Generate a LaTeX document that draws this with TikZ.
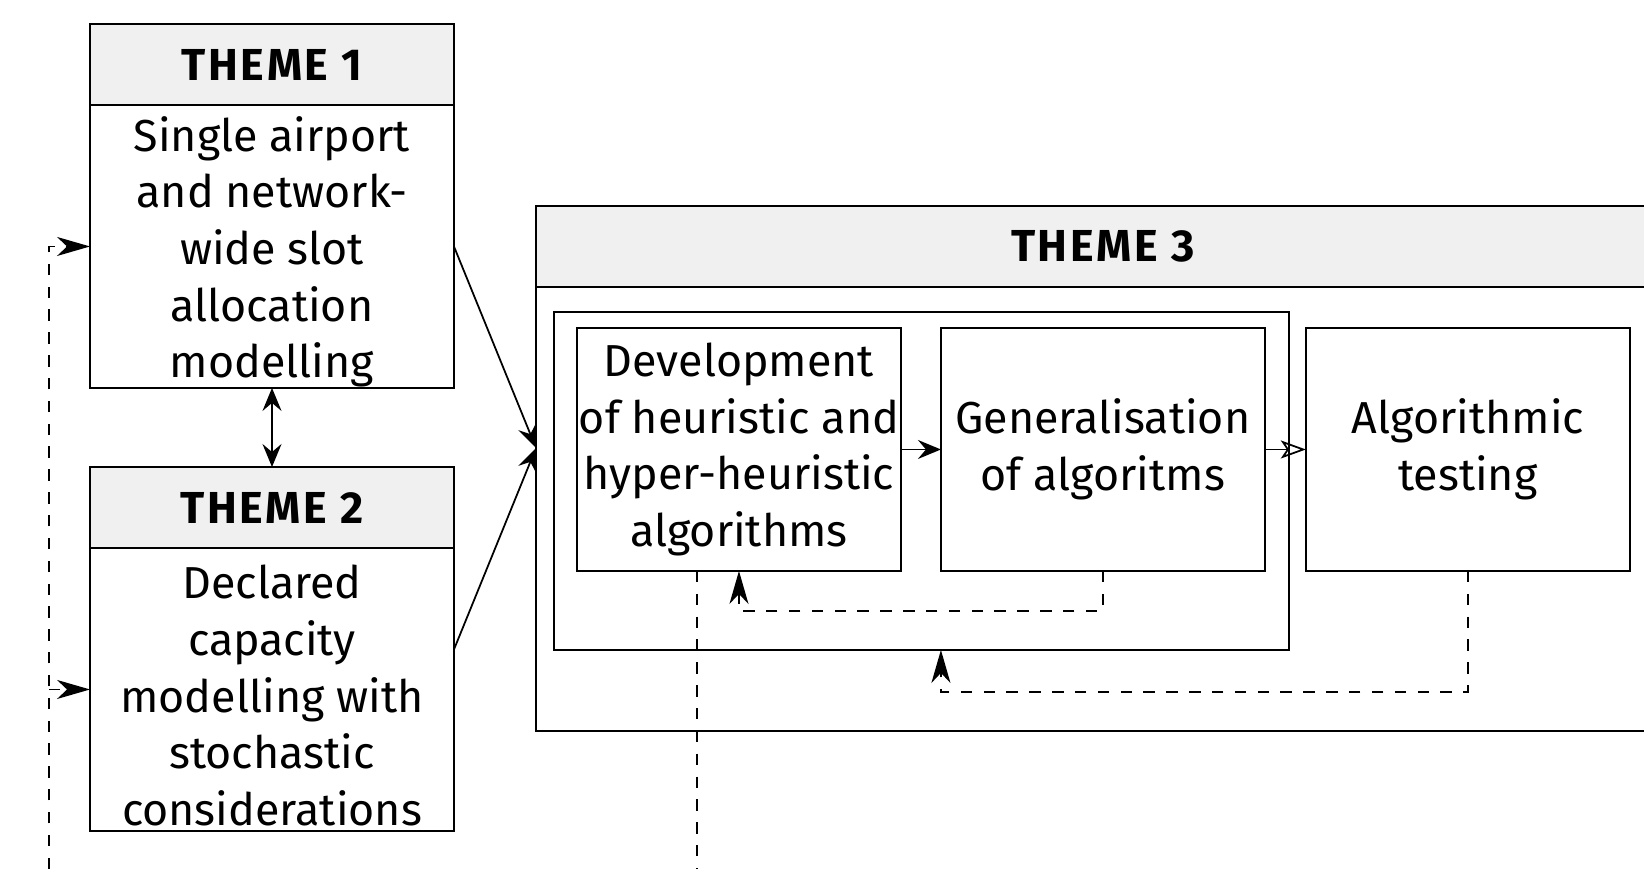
\documentclass[tikz,border=0pt]{standalone}
\usepackage{fontspec}
\setmainfont{Fira Sans}
\usetikzlibrary{positioning,arrows.meta}
\newcommand{\lowtext}{\rule{0pt}{26pt}}

\begin{document}
\begin{tikzpicture}[x=0.02cm, y=-0.02cm,
  font=\fontsize{25.5}{32.2}\selectfont,
  box/.style={draw, line width=1.2pt, outer sep=0pt, inner sep=0pt, align=center},
  head/.style={box, fill=black!6, font=\fontsize{25.5}{32.2}\selectfont\bfseries\addfontfeatures{LetterSpace=6}, minimum width=7.28cm, minimum height=1.62cm},
  theme/.style={box, minimum width=7.28cm, minimum height=5.66cm},
  task/.style={box, minimum width=6.48cm, minimum height=4.86cm},
  tip/.style={line width=1pt, -{Stealth[length=4.6mm, width=3.8mm, inset=1.6mm]}},
  dashline/.style={line width=1pt, dash pattern=on 6.5pt off 6.5pt},
  back/.style={dashline, -{Stealth[length=6.6mm, width=3.8mm, inset=2mm]}},
  ]
  \useasboundingbox (0,0) rectangle (1644,869);
  % themes 1 and 2
  \node[head] (h1) at (272,64.5) {THEME 1};
  \node[theme, below=0pt of h1] (t1) {\lowtext Single airport\\and network-\\wide slot\\allocation\\modelling};
  \node[head] (h2) at (272,507.5) {THEME 2};
  \node[theme, below=0pt of h2] (t2) {\lowtext Declared\\capacity\\modelling with\\stochastic\\considerations};
  % theme 3
  \node[head, minimum width=22.68cm, anchor=north west] (h3) at (536,206) {THEME 3};
  \node[box, minimum width=22.68cm, minimum height=8.88cm, below=0pt of h3] (t3) {};
  \node[box, minimum width=14.7cm, minimum height=6.76cm, anchor=north west] (grp) at (554,312) {};
  \node[task, anchor=north west] (dev) at (577,328) {Development\\of heuristic and\\hyper-heuristic\\algorithms};
  \node[task, right=0.8cm of dev] (gen) {Generalisation\\of algoritms};
  \node[task, right=0.82cm of gen] (alg) {Algorithmic\\testing};
  % links
  \coordinate (in3) at (536,448);
  \coordinate (d0) at (49,869);
  \coordinate (d1) at (697,869);
  \draw[line width=1pt, {Stealth[length=4.6mm, width=3.8mm, inset=1.6mm]}-{Stealth[length=4.6mm, width=3.8mm, inset=1.6mm]}] (t1.south) -- (h2.north);
  \draw[tip] (t1.east) -- (in3);
  \draw[tip] ([yshift=0.8cm]t2.east) -- (in3);
  \draw[tip] (dev) -- (gen);
  \draw[line width=1pt, -{Stealth[open, length=5mm, width=3.6mm, inset=1.2mm]}] (gen) -- (alg);
  \draw[back] (gen.south) -- ++(0,40) -| (dev.south);
  \draw[back] (alg.south) -- ++(0,121) -| ([xshift=0.39cm]grp.south);
  \draw[dashline] (dev.south -| d1) -- (d1);
  \draw[back] (d0) |- (t1.west);
  \draw[back] (d0 |- t2.west) -- (t2.west);
\end{tikzpicture}
\end{document}
